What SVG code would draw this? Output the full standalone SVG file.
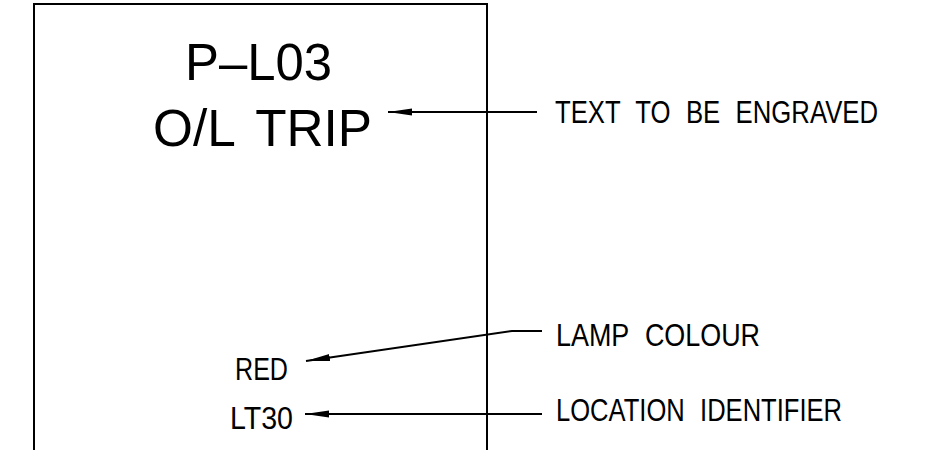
<svg xmlns="http://www.w3.org/2000/svg" width="925" height="450" viewBox="0 0 925 450">
<style>
text{font-family:"Liberation Sans",Arial,sans-serif;fill:#000}
.big{font-size:51px;word-spacing:8px}
.lbl{font-size:31px;word-spacing:10px}
.ln{fill:none;stroke:#000;stroke-width:2}
</style>
<defs>
<marker id="ah" markerUnits="userSpaceOnUse" markerWidth="26" markerHeight="10" refX="24" refY="4" orient="auto" viewBox="0 0 26 8">
<path d="M24,4 L0,0.5 L0,7.5 Z" fill="#000"/>
</marker>
</defs>
<rect width="925" height="450" fill="#fff"/>
<g id="plate">
<path class="ln" d="M34,452 V4 H487 V452"/>
</g>
<g id="engraved-text">
<text class="big" x="185" y="80" textLength="147" lengthAdjust="spacingAndGlyphs">P–L03</text>
<text class="big" x="153" y="146" textLength="219" lengthAdjust="spacingAndGlyphs">O/L TRIP</text>
</g>
<g id="lamp-text">
<text class="lbl" x="235" y="380" textLength="53" lengthAdjust="spacingAndGlyphs">RED</text>
</g>
<g id="location-text">
<text class="lbl" x="230" y="429" textLength="63" lengthAdjust="spacingAndGlyphs">LT30</text>
</g>
<g id="labels">
<text class="lbl" x="555" y="123" textLength="323" lengthAdjust="spacingAndGlyphs">TEXT TO BE ENGRAVED</text>
<text class="lbl" x="556" y="346" textLength="204" lengthAdjust="spacingAndGlyphs">LAMP COLOUR</text>
<text class="lbl" x="556" y="421" textLength="286" lengthAdjust="spacingAndGlyphs">LOCATION IDENTIFIER</text>
</g>
<g id="connectors">
<path class="ln" d="M537,112 H388" marker-end="url(#ah)"/>
<path class="ln" d="M542,331 H512 L306,361" marker-end="url(#ah)"/>
<path class="ln" d="M542,414 H305" marker-end="url(#ah)"/>
</g>
</svg>
